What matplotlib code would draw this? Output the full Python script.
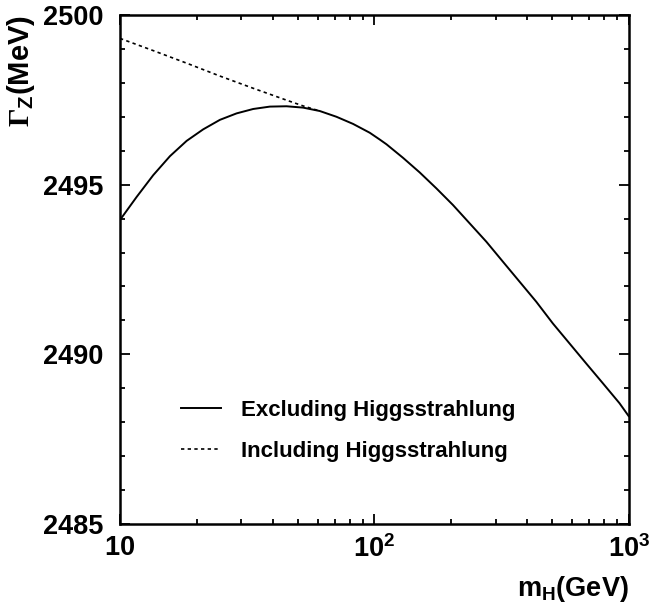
import matplotlib
matplotlib.use("Agg")
import matplotlib.pyplot as plt
from matplotlib.ticker import FixedLocator, FixedFormatter, MultipleLocator, LogLocator, NullFormatter

plt.rcParams['font.family'] = ['Liberation Sans', 'DejaVu Sans']
plt.rcParams['font.weight'] = 'bold'
plt.rcParams['mathtext.fontset'] = 'custom'
plt.rcParams['mathtext.rm'] = 'Liberation Serif'
plt.rcParams['mathtext.it'] = 'Liberation Sans:bold'
plt.rcParams['mathtext.bf'] = 'Liberation Sans:bold'

# Data
mh_excl = [10.0, 11.63, 13.51, 15.72, 18.28, 21.24, 24.71, 28.73, 33.40, 38.84, 45.15, 52.48,
           61.02, 70.99, 82.48, 95.92, 105.0, 111.6, 129.7, 150.8, 175.4, 203.8, 237.0, 275.6,
           320.3, 372.5, 433.2, 503.4, 585.5, 680.9, 791.1, 920.2, 1000.0]
gz_excl = [2493.96, 2494.64, 2495.28, 2495.84, 2496.29, 2496.63, 2496.91, 2497.10, 2497.23, 2497.30,
           2497.31, 2497.27, 2497.17, 2497.00, 2496.79, 2496.53, 2496.33, 2496.19, 2495.79, 2495.36,
           2494.89, 2494.40, 2493.86, 2493.32, 2492.73, 2492.14, 2491.55, 2490.91, 2490.32, 2489.73,
           2489.15, 2488.56, 2488.18]
mh_incl = [10.0, 13.51, 18.28, 24.71, 33.40, 45.15, 52.48, 61.02]
gz_incl = [2499.31, 2498.95, 2498.58, 2498.20, 2497.84, 2497.49, 2497.32, 2497.17]

xtick_vals = [10, 100, 1000]
xtick_labels = [r'$\mathbf{10}$', r'$\mathbf{10^{2}}$', r'$\mathbf{10^{3}}$']
ytick_vals = [2485, 2490, 2495, 2500]
ytick_labels = ['2485', '2490', '2495', '2500']

fig = plt.figure(figsize=(6.63, 6.14), dpi=100)
ax = fig.add_axes([0.181, 0.1466, 0.7672, 0.829])

ax.plot(mh_excl, gz_excl, color='black', lw=1.4, label='Excluding Higgsstrahlung')
ax.plot(mh_incl, gz_incl, color='black', lw=1.2, linestyle=(0, (2, 2)), label='Including Higgsstrahlung')

ax.set_xscale('log')
ax.set_xlim(10, 1000)
ax.set_ylim(2485, 2500)

ax.xaxis.set_major_locator(FixedLocator(xtick_vals))
ax.xaxis.set_major_formatter(FixedFormatter(xtick_labels))
ax.xaxis.set_minor_locator(LogLocator(base=10, subs=range(2, 10)))
ax.xaxis.set_minor_formatter(NullFormatter())
ax.yaxis.set_major_locator(FixedLocator(ytick_vals))
ax.yaxis.set_major_formatter(FixedFormatter(ytick_labels))
ax.yaxis.set_minor_locator(MultipleLocator(1))

ax.tick_params(which='both', direction='in', top=True, right=True, width=1.3)
ax.tick_params(which='major', length=7.2, labelsize=19.5)
ax.tick_params(axis='y', which='major', pad=12)
ax.tick_params(axis='x', which='major', pad=8)
ax.tick_params(which='minor', length=3.6)
for lab in ax.get_yticklabels() + ax.get_xticklabels():
    lab.set_fontweight('bold')
for s in ax.spines.values():
    s.set_linewidth(1.8)

ax.set_ylabel(r'$\mathrm{\Gamma}_{\mathbf{Z}}$(MeV)', fontsize=21, fontweight='bold', loc='top', labelpad=4)
ax.set_xlabel(r'$\mathbf{m}_{\mathbf{H}}$(GeV)', fontsize=19.5, fontweight='bold', loc='right', labelpad=8)

leg = ax.legend(loc='upper left', bbox_to_anchor=(0.099, 0.265), frameon=False,
                prop={'family': 'Liberation Sans', 'weight': 'bold', 'size': 16},
                handlelength=1.8, handletextpad=0.9, labelspacing=0.9, borderpad=0)

fig.savefig('out.png', dpi=100)
